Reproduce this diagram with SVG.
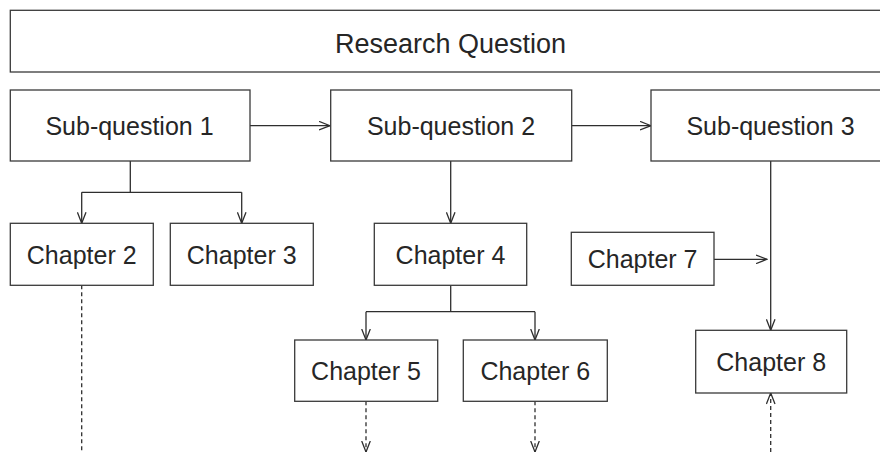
<svg xmlns="http://www.w3.org/2000/svg" width="880" height="452" viewBox="0 0 880 452">
<style>
.box{fill:#fff;stroke:#3a3a3a;stroke-width:1.3}
.t{font-family:"Liberation Sans",Arial,sans-serif;font-size:25px;fill:#262626;text-anchor:middle}
.c{fill:none;stroke:#2e2e2e;stroke-width:1.3}
.d{fill:none;stroke:#2e2e2e;stroke-width:1.3;stroke-dasharray:4 3}
</style>
<defs>
<marker id="ah" viewBox="0 0 12 10" refX="11.5" refY="5" markerWidth="12" markerHeight="10" markerUnits="userSpaceOnUse" orient="auto">
<path d="M0.5,0.7 L11.5,5 L0.5,9.3" fill="none" stroke="#2e2e2e" stroke-width="1.3"/>
</marker>
</defs>
<rect width="880" height="452" fill="#fff"/>
<g id="connectors">
<line class="c" x1="250" y1="125.7" x2="330" y2="125.7" marker-end="url(#ah)"/>
<line class="c" x1="572" y1="125.7" x2="651" y2="125.7" marker-end="url(#ah)"/>
<polyline class="c" points="130.3,161 130.3,192.3"/>
<polyline class="c" points="81.7,192.3 241.7,192.3"/>
<line class="c" x1="81.7" y1="192.3" x2="81.7" y2="223.3" marker-end="url(#ah)"/>
<line class="c" x1="241.7" y1="192.3" x2="241.7" y2="223.3" marker-end="url(#ah)"/>
<line class="c" x1="450.7" y1="161" x2="450.7" y2="223.3" marker-end="url(#ah)"/>
<polyline class="c" points="450.7,285.3 450.7,311.7"/>
<polyline class="c" points="366,311.7 535,311.7"/>
<line class="c" x1="366" y1="311.7" x2="366" y2="340" marker-end="url(#ah)"/>
<line class="c" x1="535" y1="311.7" x2="535" y2="340" marker-end="url(#ah)"/>
<line class="c" x1="770.7" y1="161" x2="770.7" y2="330.3" marker-end="url(#ah)"/>
<line class="c" x1="714" y1="259.3" x2="767" y2="259.3" marker-end="url(#ah)"/>
<line class="d" x1="81.7" y1="285.3" x2="81.7" y2="452"/>
<line class="d" x1="366" y1="401.3" x2="366" y2="452" marker-end="url(#ah)"/>
<line class="d" x1="535" y1="401.3" x2="535" y2="452" marker-end="url(#ah)"/>
<line class="d" x1="770.7" y1="452" x2="770.7" y2="393" marker-end="url(#ah)"/>
</g>
<g id="research-question">
<rect class="box" x="10.3" y="10.3" width="880" height="61.7"/>
<text class="t" x="450.5" y="53" style="font-size:27px">Research Question</text>
</g>
<g id="sub-question-1">
<rect class="box" x="10.3" y="90" width="239.7" height="71"/>
<text class="t" x="129.5" y="135">Sub-question 1</text>
</g>
<g id="sub-question-2">
<rect class="box" x="330.7" y="90" width="241" height="71"/>
<text class="t" x="451" y="135">Sub-question 2</text>
</g>
<g id="sub-question-3">
<rect class="box" x="651" y="90" width="240" height="71"/>
<text class="t" x="770.5" y="135">Sub-question 3</text>
</g>
<g id="chapter-2">
<rect class="box" x="10.3" y="223.3" width="143" height="62"/>
<text class="t" x="81.7" y="263.5">Chapter 2</text>
</g>
<g id="chapter-3">
<rect class="box" x="170.3" y="223.3" width="143" height="62"/>
<text class="t" x="241.7" y="263.5">Chapter 3</text>
</g>
<g id="chapter-4">
<rect class="box" x="374.3" y="223.3" width="152.4" height="62"/>
<text class="t" x="450.5" y="263.5">Chapter 4</text>
</g>
<g id="chapter-5">
<rect class="box" x="294.7" y="340" width="143" height="61.3"/>
<text class="t" x="366" y="379.5">Chapter 5</text>
</g>
<g id="chapter-6">
<rect class="box" x="463.3" y="340" width="144" height="61.3"/>
<text class="t" x="535.3" y="379.5">Chapter 6</text>
</g>
<g id="chapter-7">
<rect class="box" x="571.3" y="232.3" width="142.7" height="53"/>
<text class="t" x="642.6" y="267.5">Chapter 7</text>
</g>
<g id="chapter-8">
<rect class="box" x="695.7" y="330.3" width="151" height="62.7"/>
<text class="t" x="771.2" y="370.5">Chapter 8</text>
</g>
</svg>
